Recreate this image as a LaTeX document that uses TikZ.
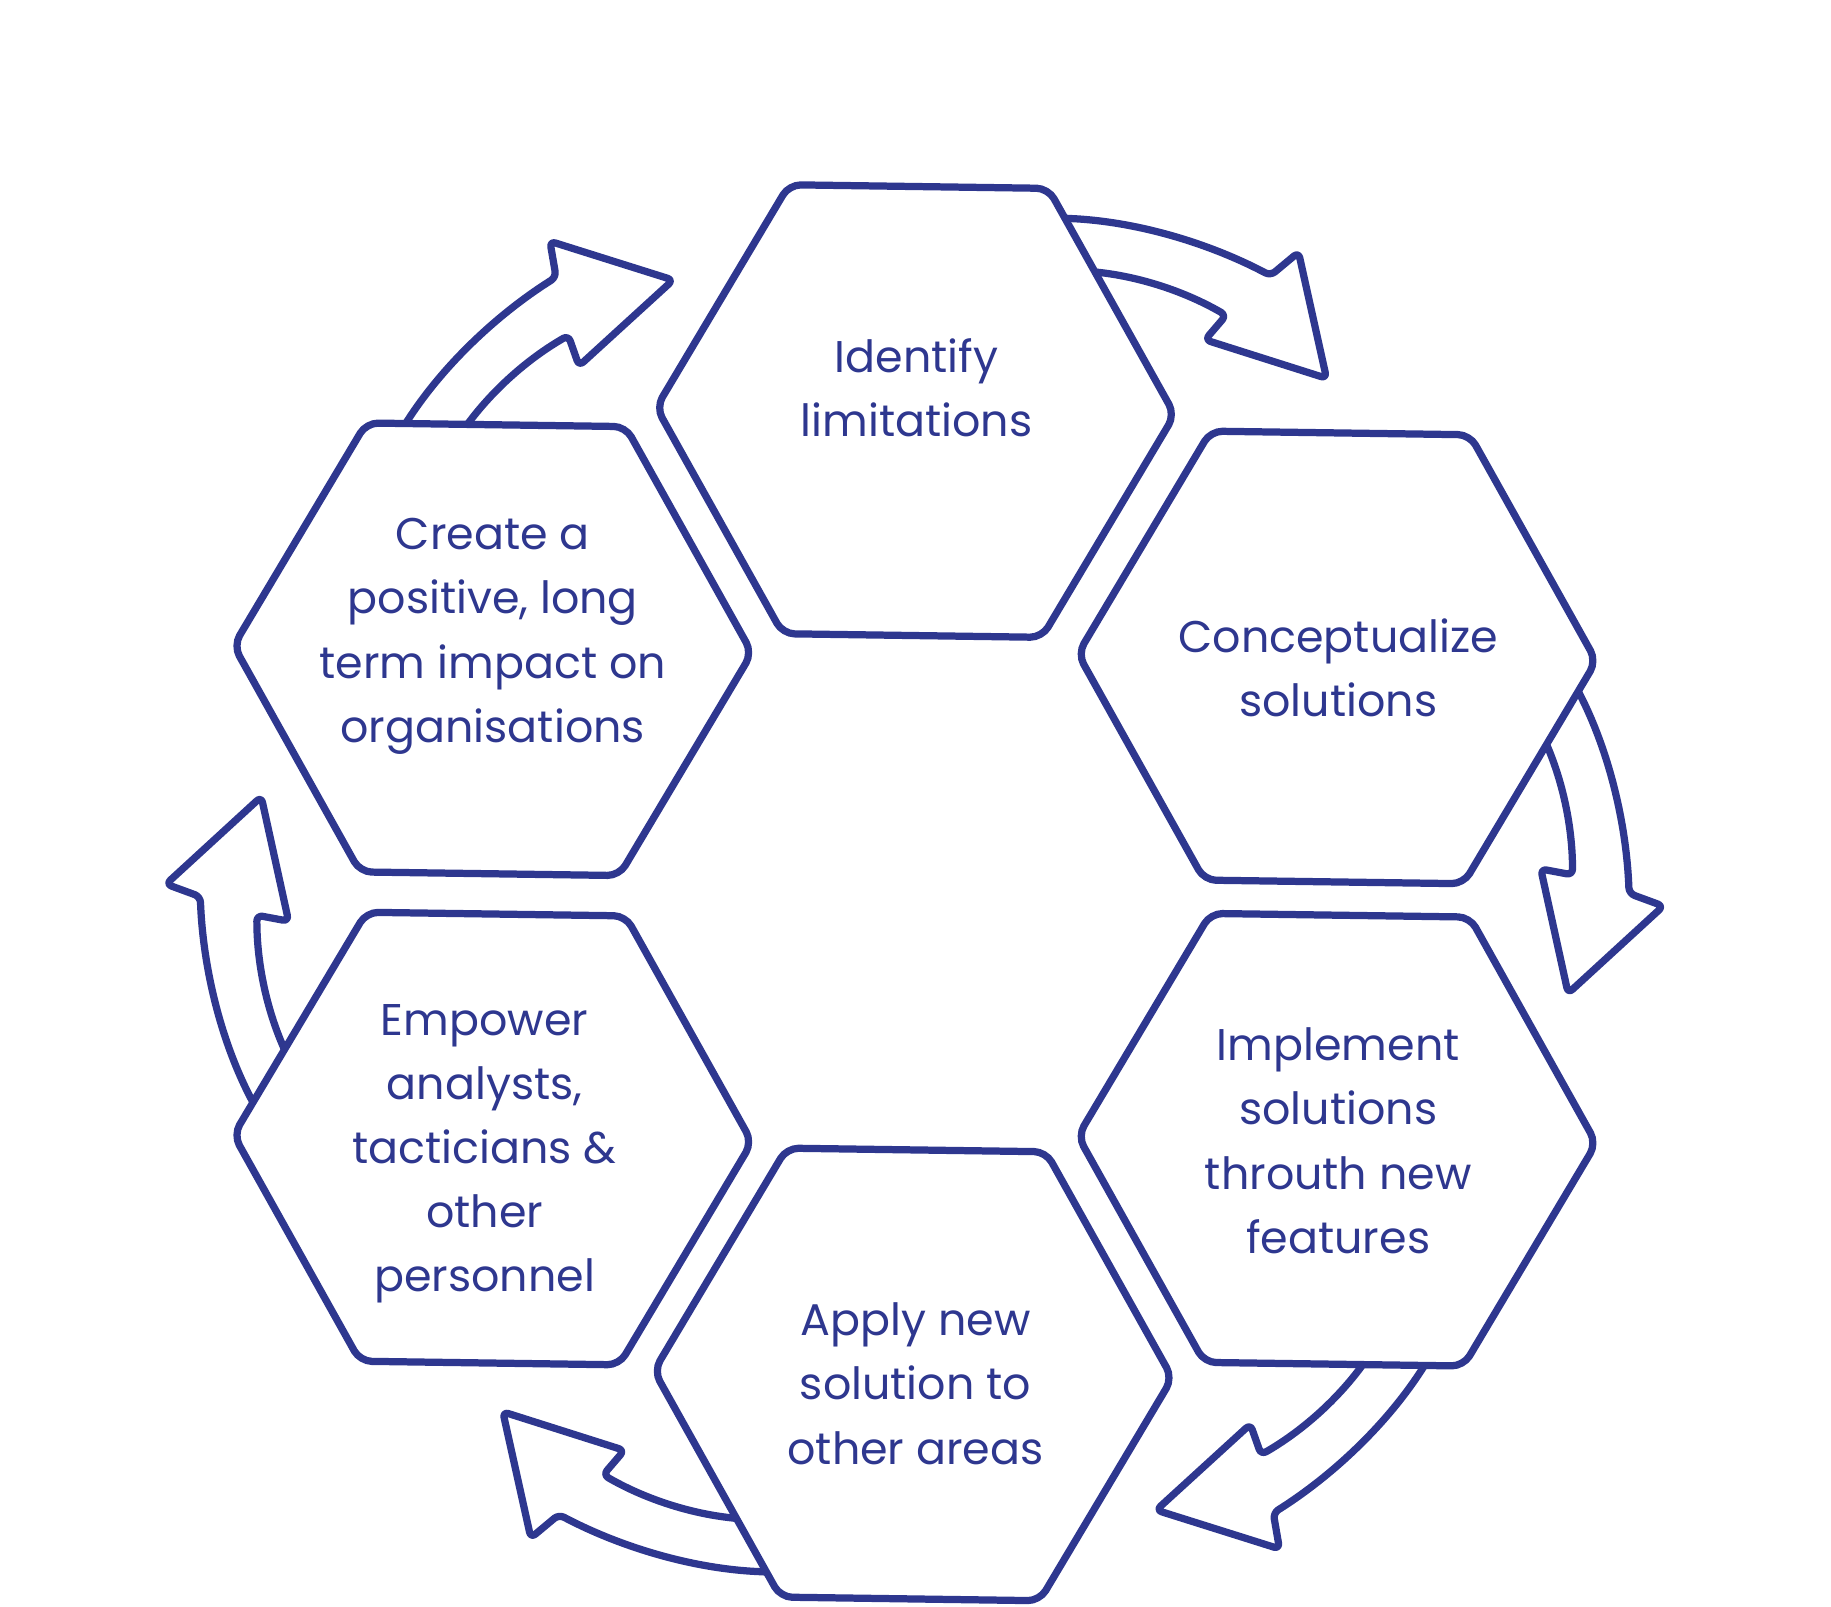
\documentclass[tikz,border=0pt]{standalone}
\usepackage{fontspec}
\setmainfont{Poppins}
\usetikzlibrary{shapes.geometric,calc}
\definecolor{hexblue}{RGB}{46,55,143}
\newcommand{\cyclearrowpath}{(895,186) -- (914,187) .. controls (974,190) and (1035,208) .. (1088,236) -- (1112,216) -- (1136,324) -- (1032,291) -- (1050,270) .. controls (1015.4,250) and (978.7,237.9) .. (939,233) -- (920,231) -- cycle}
\begin{document}
\begin{tikzpicture}[x=0.5pt,y=-0.5pt,
  hexa/.style={draw=hexblue, fill=white, line width=3.1pt, regular polygon,
    regular polygon sides=6, minimum size=222pt, inner sep=0pt,
    rounded corners=5pt, rotate=-0.8},
  txt/.style={text=hexblue, align=center, inner sep=0pt,
    font=\fontsize{19}{27.5}\selectfont},
  band/.style={draw=hexblue, fill=white, line width=3.1pt, line join=round,
    rounded corners=2.5pt}]
\useasboundingbox (0,0) rectangle (1568,1376);
\coordinate (C) at (783.3,766.5);
% arrows
\foreach \k in {0,1,2,3,4,5}{
  \begin{scope}[rotate around={-60*\k:(C)}]
    \draw[band] \cyclearrowpath;
  \end{scope}
}
% hexagons
\node[hexa] (h1) at (784,352) {};
\node[hexa] (h2) at (1145,563) {};
\node[hexa] (h3) at (1145,976) {};
\node[hexa] (h4) at (782,1177) {};
\node[hexa] (h5) at (422,975) {};
\node[hexa] (h6) at (422,556) {};
% texts
\node[txt] (t1) at (785,332) {Identify\\limitations};
\node[txt] (t2) at (1146,572) {Conceptualize\\solutions};
\node[txt] (t3) at (1146,977) {Implement\\solutions\\throuth new\\features};
\node[txt] (t4) at (784,1185) {Apply new\\solution to\\other areas};
\node[txt] (t5) at (415,988) {Empower\\analysts,\\tacticians \&\\other\\personnel};
\node[txt] (t6) at (422,545) {Create a\\positive, long\\term impact on\\organisations};
\end{tikzpicture}
\end{document}
